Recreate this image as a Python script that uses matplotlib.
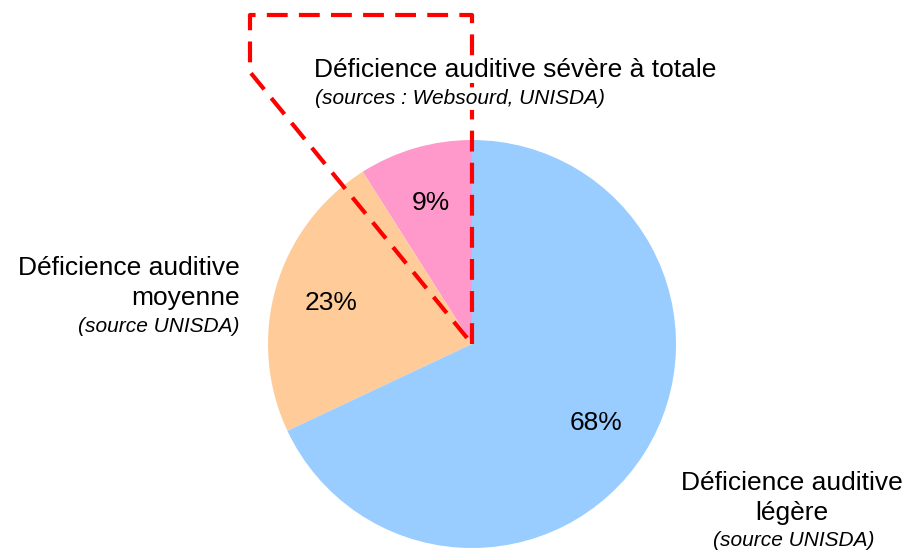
import matplotlib.pyplot as plt

plt.rcParams['font.family'] = ['Liberation Sans', 'DejaVu Sans']

# parts, starting at 12 o'clock and going anticlockwise
labels = ["Déficience auditive sévère à totale", "Déficience auditive moyenne", "Déficience auditive légère"]
sources = ["(sources : Websourd, UNISDA)", "(source UNISDA)", "(source UNISDA)"]
values = [9, 23, 68]
colors = ["#FF99CC", "#FFCC99", "#99CCFF"]

W, H = 909, 552
fig = plt.figure(figsize=(W / 100, H / 100), dpi=100)
ax = fig.add_axes([0, 0, 1, 1])
ax.set_xlim(0, W)
ax.set_ylim(0, H)
ax.set_aspect('equal')
ax.axis('off')

cx, cy, r = 472, H - 344, 204
wedges, texts, autotexts = ax.pie(values, colors=colors, startangle=90, counterclock=True,
                                  center=(cx, cy), radius=r, autopct='%d%%', pctdistance=0.72,
                                  textprops=dict(fontsize=19, color='black'),
                                  wedgeprops=dict(linewidth=0))
ax.set_xlim(0, W)
ax.set_ylim(0, H)

# dashed outline of the zoomed-out slice
px = [cx, cx, 250, 250, cx]
py = [cy, H - 15, H - 15, H - 72, cy]
ax.plot(px, py, color='#FF0000', lw=3, ls=(0, (5, 2.7)), zorder=3)

big, small = 19, 15
box = dict(facecolor='white', edgecolor='none', pad=1)
ax.text(515, H - 70, labels[0], fontsize=big, ha='center', va='center', zorder=4, bbox=box)
ax.text(460, H - 99, sources[0], fontsize=small, style='italic', ha='center', va='center',
        zorder=4, bbox=box)

ax.text(240, H - 268, "Déficience auditive", fontsize=big, ha='right', va='center')
ax.text(240, H - 298, "moyenne", fontsize=big, ha='right', va='center')
ax.text(240, H - 326, sources[1], fontsize=small, style='italic', ha='right', va='center')

ax.text(792, H - 483, "Déficience auditive", fontsize=big, ha='center', va='center')
ax.text(792, H - 513, "légère", fontsize=big, ha='center', va='center')
ax.text(794, H - 541, sources[2], fontsize=small, style='italic', ha='center', va='center')

fig.savefig("out.png", dpi=100)
